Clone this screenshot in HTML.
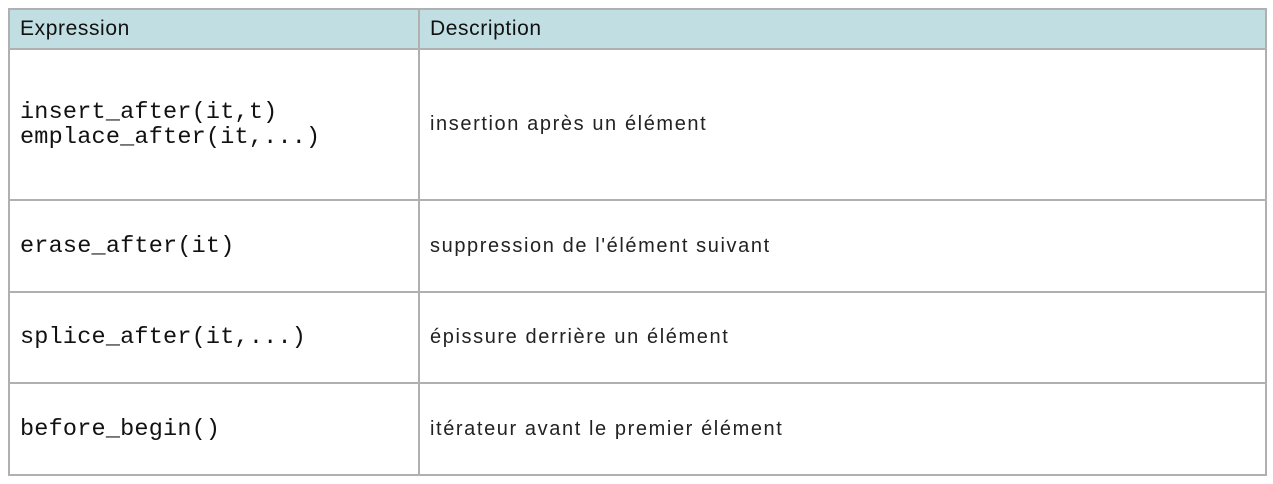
<!DOCTYPE html>
<html><head><meta charset="utf-8"><style>
body{margin:0;background:#fff;width:1273px;height:484px;position:relative;overflow:hidden}
table{position:absolute;left:8px;top:8px;border-collapse:collapse;width:1259px;table-layout:fixed}
td,th{border:2px solid #b0b0b0;padding:0 0 0 10px;text-align:left;vertical-align:middle}
th{background:#c1dfe3;height:38px;font:normal 21px "Liberation Sans",sans-serif;letter-spacing:0.6px;color:#111}
td.c{font:23.5px "Liberation Mono",monospace;color:#111;line-height:25px;letter-spacing:0.2px}
td.d{font:20px "Liberation Sans",sans-serif;color:#222;letter-spacing:1.6px}
</style></head><body>
<table>
<colgroup><col style="width:410px"><col></colgroup>
<tr><th>Expression</th><th>Description</th></tr>
<tr style="height:151px"><td class="c">insert_after(it,t)<br>emplace_after(it,...)</td><td class="d">insertion après un élément</td></tr>
<tr style="height:92px"><td class="c">erase_after(it)</td><td class="d">suppression de l'élément suivant</td></tr>
<tr style="height:91px"><td class="c">splice_after(it,...)</td><td class="d">épissure derrière un élément</td></tr>
<tr style="height:92px"><td class="c">before_begin()</td><td class="d">itérateur avant le premier élément</td></tr>
</table>
</body></html>
